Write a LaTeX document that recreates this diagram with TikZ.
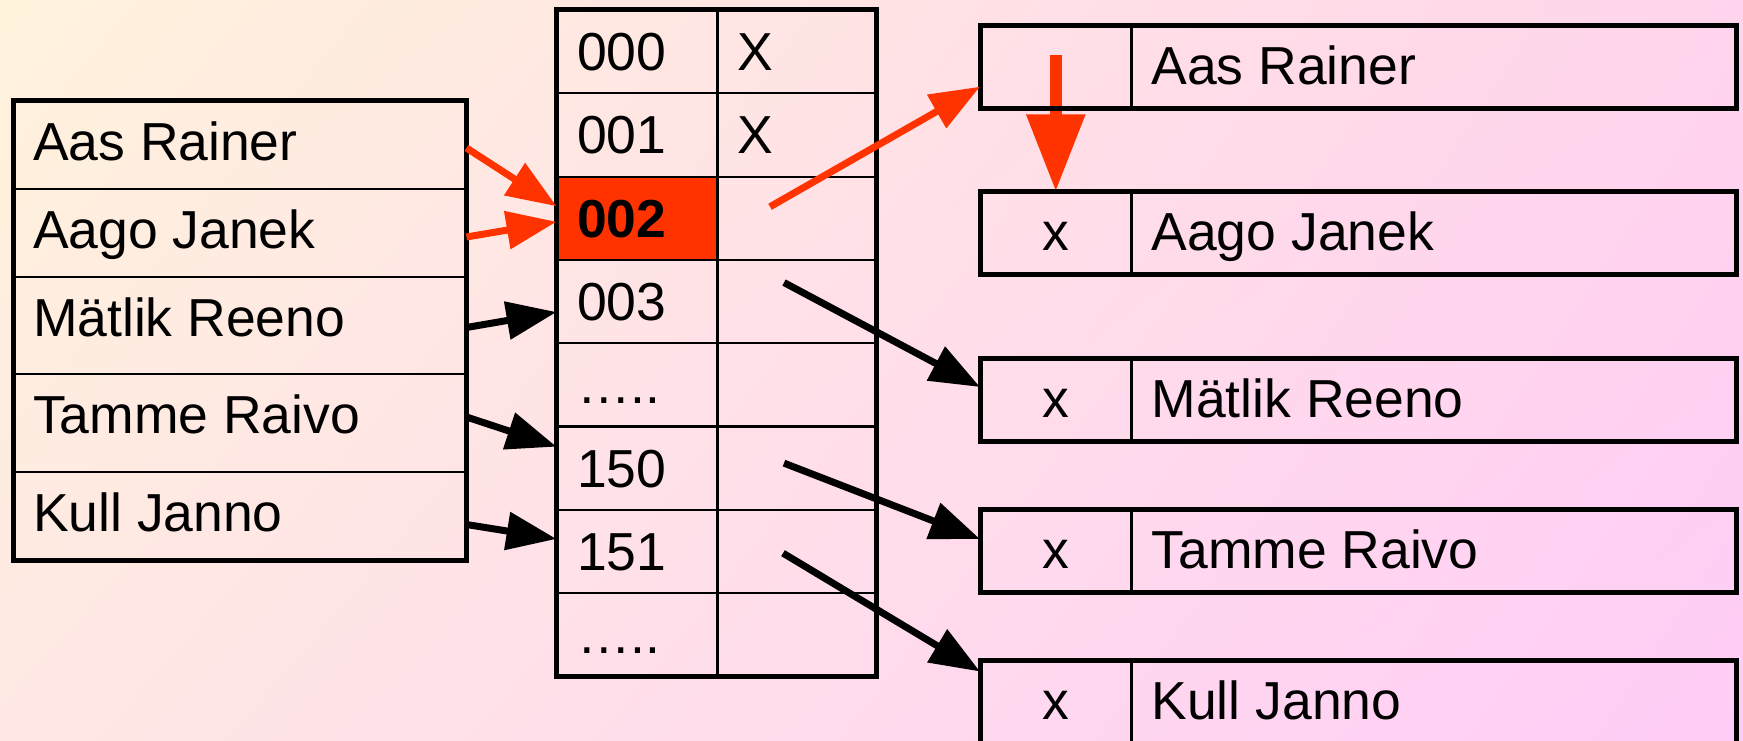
\documentclass[tikz,border=0pt]{standalone}
\usepackage{fontspec}
\setmainfont{Liberation Sans}
\usetikzlibrary{arrows.meta,calc,shadings}
\definecolor{bgUL}{RGB}{255,243,220}
\definecolor{bgUR}{RGB}{255,212,236}
\definecolor{bgLL}{RGB}{255,232,228}
\definecolor{bgLR}{RGB}{255,204,247}
\definecolor{hot}{RGB}{255,51,0}
\pgfdeclarelayer{bg}
\pgfsetlayers{bg,main}
\begin{document}
\begin{tikzpicture}[x=1pt,y=-1pt,
  cellbox/.style={draw=black, line width=2.2pt, inner sep=0pt, outer sep=0pt, anchor=north west},
  frame/.style={draw=black, line width=5pt},
  txt/.style={font=\fontsize{53.5}{60}\selectfont, inner sep=0pt, outer sep=0pt, anchor=base west, text=black},
  ptr/.style={line width=7pt, -{Triangle[length=50pt,width=37pt]}},
  bigptr/.style={line width=12pt, -{Triangle[length=77pt,width=56pt]}}
]
\useasboundingbox (0,0) rectangle (1743,741);
\begin{pgfonlayer}{bg}
\shade[upper left=bgUL, upper right=bgUR, lower left=bgLL, lower right=bgLR] (0,0) rectangle (1743,741);
\end{pgfonlayer}

% left table
\node[cellbox, minimum width=453pt, minimum height=88pt] (L1) at (13.5,101) {};
\node[cellbox, minimum width=453pt, minimum height=88pt] (L2) at (13.5,189) {};
\node[cellbox, minimum width=453pt, minimum height=97pt] (L3) at (13.5,277) {};
\node[cellbox, minimum width=453pt, minimum height=98pt] (L4) at (13.5,374) {};
\node[cellbox, minimum width=453pt, minimum height=88pt] (L5) at (13.5,472) {};
\draw[frame] (L1.north west) rectangle (L5.south east);
\foreach \i/\nm in {1/Aas Rainer,2/Aago Janek,3/Mätlik Reeno,4/Tamme Raivo,5/Kull Janno}
  \node[txt] (tl\i) at ($(L\i.north west)+(19.5,59.5)$) {\nm};

% middle table
\foreach \i/\f in {0/none,1/none,2/hot,3/none,4/none,5/none,6/none,7/none} {
  \node[cellbox, fill=\f, minimum width=161pt, minimum height=83.3pt] (a\i) at (556.5,{10+83.3*\i}) {};
  \node[cellbox, minimum width=159pt, minimum height=83.3pt] (b\i) at (717.5,{10+83.3*\i}) {};
}
\draw[frame] (a0.north west) rectangle (b7.south east);
\foreach \i/\t in {0/000,1/001,2/{\bfseries 002},3/003,4/…..,5/150,6/151,7/…..}
  \node[txt] (ta\i) at ($(a\i.north west)+(20.5,60.5)$) {\t};
\node[txt] (tx0) at ($(b0.north west)+(19.5,60.5)$) {X};
\node[txt] (tx1) at ($(b1.north west)+(19.5,60.5)$) {X};

% right boxes
\foreach \i/\y/\nm in {1/25.5/Aas Rainer,2/191.5/Aago Janek,3/358/Mätlik Reeno,4/509/Tamme Raivo,5/660/Kull Janno} {
  \node[cellbox, minimum width=151.5pt, minimum height=83pt] (c\i) at (980,\y) {};
  \node[cellbox, minimum width=604.5pt, minimum height=83pt] (d\i) at (1131.5,\y) {};
  \draw[frame] (c\i.north west) rectangle (d\i.south east);
  \node[txt] (tn\i) at ($(d\i.north west)+(20,59)$) {\nm};
}
\foreach \i in {2,3,4,5}
  \node[txt, anchor=base] (tc\i) at ($(c\i.north)+(0,59)$) {x};

% connectors
\draw[ptr, hot] ($(L1.east)+(0,3)$) -- ($(a2.west)+(0,-12)$);
\draw[ptr, hot] ($(L2.east)+(0,4)$) -- ($(a2.west)+(0,3.5)$);
\draw[ptr, black] ($(L3.east)+(0,2)$) -- ($(a3.west)+(0,10.5)$);
\draw[ptr, black] ($(L4.east)+(0,-6)$) -- ($(a5.west)+(0,-21.5)$);
\draw[ptr, black] ($(L5.east)+(0,8.5)$) -- ($(a6.west)+(0,-12.5)$);
\draw[ptr, hot] ($(b2.center)+(-27,-11.5)$) -- ($(c1.west)+(0,19.7)$);
\draw[ptr, black] ($(b3.center)+(-13,-19)$) -- ($(c3.west)+(0,-12.5)$);
\draw[ptr, black] ($(b5.center)+(-13,-5)$) -- ($(c4.west)+(0,-11.5)$);
\draw[ptr, black] ($(b6.center)+(-14,1.7)$) -- ($(c5.west)+(0,-30)$);
\begin{pgfonlayer}{bg}
\draw[bigptr, hot] ($(c1.center)+(0,-12)$) -- (c2.north);
\end{pgfonlayer}
\end{tikzpicture}
\end{document}
